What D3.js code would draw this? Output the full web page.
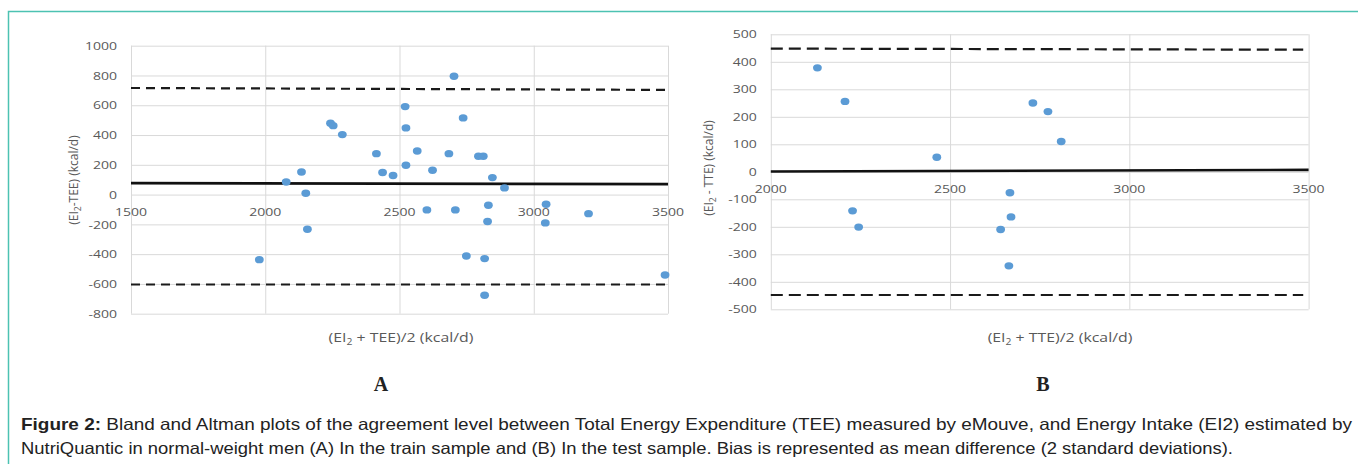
<!DOCTYPE html>
<html>
<head>
<meta charset="utf-8">
<script src="https://cdn.jsdelivr.net/npm/d3@7"></script>
<style>
body { margin: 0; background: #fff; }
</style>
</head>
<body>
<div id="main"></div>
<script>
// panel A - train sample
const trainMean = [2703, 2521, 2737, 2243, 2253, 2287, 2524, 2414, 2566, 2684, 2794, 2812, 2437, 2476, 2524, 2623, 2135, 2078,
    2151, 2846, 2891, 2602, 2708, 2831, 3046, 3204, 3043, 2828, 2157, 1978, 2749, 2817, 2817, 3489];
const trainDiff = [795, 591, 515, 479, 463, 403, 448, 275, 293, 275, 257, 257, 148, 128, 197, 163, 152, 85,
    9, 114, 45, -103, -103, -72, -65, -128, -190, -181, -233, -437, -412, -430, -676, -540];
const trainLineX = [1500, 3500];
const trainBias = [77, 70];
const trainUpper = [716, 703];
const trainLower = [-604, -604];
const trainXTicks = [1500, 2000, 2500, 3000, 3500];
const trainYTicks = [-800, -600, -400, -200, 0, 200, 400, 600, 800, 1000];

// panel B - test sample
const testMean = [2130, 2207, 2463, 2731, 2773, 2810, 2667, 2670, 2641, 2664, 2228, 2245];
const testDiff = [378, 256, 53, 250, 219, 110, -76, -164, -210, -342, -142, -201];
const testLineX = [2000, 3485];
const testBiasX = [2000, 3500];
const testBias = [1, 7];
const testUpper = [448, 444];
const testLower = [-448, -448];
const testXTicks = [2000, 2500, 3000, 3500];
const testYTicks = [-500, -400, -300, -200, -100, 0, 100, 200, 300, 400, 500];

const ctx = {
    width: 1358,
    height: 464,
    grey: "#595959",
    dot: "#5b9bd5",
    sx: 1.22 // picture is stretched horizontally
};

const svg = d3.select("#main").append("svg")
    .attr("width", ctx.width)
    .attr("height", ctx.height);

// teal frame
svg.append("path")
    .attr("d", "M8.5," + ctx.height + " V11.5 H" + ctx.width)
    .attr("fill", "none")
    .attr("stroke", "#4cc2b2")
    .attr("stroke-width", 1.5);

function titleWithSub(t, rest) {
    t.append("tspan").text("(EI");
    t.append("tspan").attr("dy", 3).style("font-size", "8.5px").text("2");
    t.append("tspan").attr("dy", -3).text(rest);
}

function drawPanel(p) {
    let x = d3.scaleLinear().domain(p.xDomain).range([p.left, p.right]);
    let y = d3.scaleLinear().domain(p.yDomain).range([p.bottom, p.top]);
    let g = svg.append("g");
    let fmt = d => String(d);

    // horizontal grid + y labels
    let ya = g.append("g")
        .attr("transform", "translate(" + p.left + ",0)")
        .call(d3.axisLeft(y).tickValues(p.yTicks).tickFormat(fmt).tickSize(-(p.right - p.left)).tickPadding(0));
    ya.select(".domain").remove();
    ya.selectAll("line").attr("stroke", "#d9d9d9");
    ya.selectAll("text")
        .attr("x", -14 / ctx.sx)
        .attr("transform", "scale(" + ctx.sx + ",1)")
        .attr("fill", ctx.grey)
        .style("font-family", "Open Sans")
        .style("font-size", "11.5px");

    // vertical grid
    let xg = g.append("g")
        .attr("transform", "translate(0," + p.bottom + ")")
        .call(d3.axisBottom(x).tickValues(p.xTicks).tickSize(-(p.bottom - p.top)).tickFormat(""));
    xg.select(".domain").remove();
    xg.selectAll("line").attr("stroke", "#d9d9d9");

    // x labels sit under the zero line
    let xa = g.append("g")
        .attr("transform", "translate(0," + y(0) + ")")
        .call(d3.axisBottom(x).tickValues(p.xTicks).tickFormat(fmt).tickSize(0).tickPadding(0));
    xa.select(".domain").remove();
    xa.selectAll(".tick").each(function (d) {
        d3.select(this).attr("transform", "translate(" + x(d) + ",0) scale(" + ctx.sx + ",1)");
    });
    xa.selectAll("text")
        .attr("y", 13)
        .attr("fill", ctx.grey)
        .style("font-family", "Open Sans")
        .style("font-size", "11.5px");

    // limits of agreement and bias
    let line = d3.line().x(d => x(d[0])).y(d => y(d[1]));
    g.append("path")
        .attr("d", line(d3.zip(p.lineX, p.upper)))
        .attr("stroke", "#1a1a1a").attr("stroke-width", 2.2).attr("fill", "none")
        .attr("stroke-dasharray", p.dash);
    g.append("path")
        .attr("d", line(d3.zip(p.lineX, p.lower)))
        .attr("stroke", "#1a1a1a").attr("stroke-width", 2.2).attr("fill", "none")
        .attr("stroke-dasharray", p.dash);
    g.append("path")
        .attr("d", line(d3.zip(p.biasX, p.bias)))
        .attr("stroke", "#111").attr("stroke-width", 2.6).attr("fill", "none");

    // points
    g.selectAll("ellipse.pt")
        .data(d3.zip(p.xs, p.ys))
        .enter().append("ellipse")
        .attr("class", "pt")
        .attr("cx", d => x(d[0]))
        .attr("cy", d => y(d[1]))
        .attr("rx", 4.4)
        .attr("ry", 3.7)
        .attr("fill", ctx.dot);

    // axis titles
    let yt = g.append("text")
        .attr("transform", "translate(" + p.yTitleX + "," + p.yTitleY + ") rotate(-90)")
        .attr("text-anchor", "middle")
        .attr("fill", ctx.grey)
        .style("font-family", "Open Sans")
        .style("font-size", "12px");
    titleWithSub(yt, p.yTitleRest);

    let xt = g.append("text")
        .attr("transform", "translate(" + p.xTitleX + "," + p.xTitleY + ") scale(" + ctx.sx + ",1)")
        .attr("text-anchor", "middle")
        .attr("fill", ctx.grey)
        .style("font-family", "Open Sans")
        .style("font-size", "13px");
    titleWithSub(xt, p.xTitleRest);

    // panel letter
    svg.append("text")
        .attr("x", p.letterX).attr("y", 391)
        .attr("text-anchor", "middle")
        .style("font-family", "Liberation Serif")
        .style("font-weight", "bold")
        .style("font-size", "20px")
        .attr("fill", "#222")
        .text(p.letter);
}

drawPanel({
    xDomain: [1500, 3500], yDomain: [-800, 1000],
    left: 131, right: 668, top: 45.7, bottom: 313.7,
    xTicks: trainXTicks, yTicks: trainYTicks,
    xs: trainMean, ys: trainDiff,
    lineX: trainLineX, upper: trainUpper, lower: trainLower,
    biasX: trainLineX, bias: trainBias,
    dash: "9,6",
    yTitleX: 78, yTitleY: 180, yTitleRest: "-TEE) (kcal/d)",
    xTitleX: 401, xTitleY: 342, xTitleRest: " + TEE)/2 (kcal/d)",
    letter: "A", letterX: 381
});

drawPanel({
    xDomain: [2000, 3500], yDomain: [-500, 500],
    left: 770.8, right: 1308.6, top: 34.3, bottom: 309.3,
    xTicks: testXTicks, yTicks: testYTicks,
    xs: testMean, ys: testDiff,
    lineX: testLineX, upper: testUpper, lower: testLower,
    biasX: testBiasX, bias: testBias,
    dash: "12,6",
    yTitleX: 713, yTitleY: 168, yTitleRest: " - TTE) (kcal/d)",
    xTitleX: 1060, xTitleY: 342, xTitleRest: " + TTE)/2 (kcal/d)",
    letter: "B", letterX: 1043
});

// caption (text in the picture is a bit stretched, first line is justified)
const cap1 = svg.append("text")
    .attr("x", 21).attr("y", 430)
    .attr("fill", "#222")
    .attr("textLength", 1331)
    .attr("lengthAdjust", "spacingAndGlyphs")
    .style("font-family", "Liberation Sans")
    .style("font-size", "16.5px");
cap1.append("tspan").style("font-weight", "bold").text("Figure 2:");
cap1.append("tspan").text(" Bland and Altman plots of the agreement level between Total Energy Expenditure (TEE) measured by eMouve, and Energy Intake (EI2) estimated by");

svg.append("text")
    .attr("x", 21).attr("y", 454)
    .attr("fill", "#222")
    .attr("textLength", 1212)
    .attr("lengthAdjust", "spacingAndGlyphs")
    .style("font-family", "Liberation Sans")
    .style("font-size", "16.5px")
    .text("NutriQuantic in normal-weight men (A) In the train sample and (B) In the test sample. Bias is represented as mean difference (2 standard deviations).");
</script>
</body>
</html>
